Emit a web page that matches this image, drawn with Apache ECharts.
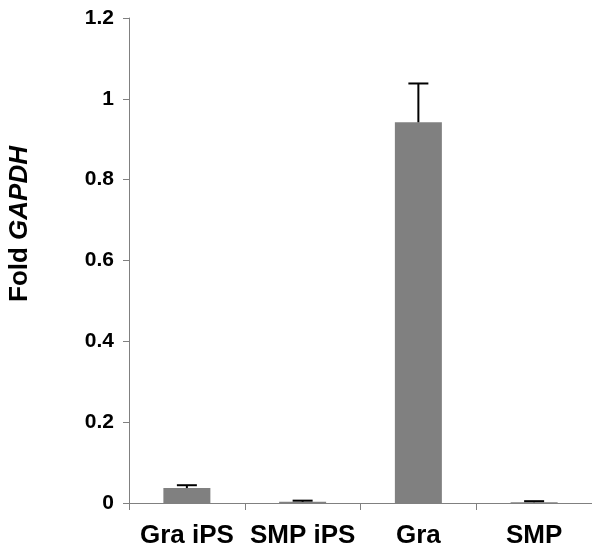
<!DOCTYPE html>
<html>
<head>
<meta charset="utf-8">
<script src="https://cdn.jsdelivr.net/npm/echarts@6/dist/echarts.min.js"></script>
<style>html,body{margin:0;padding:0;background:#fff;}#c{width:592px;height:550px;}</style>
</head>
<body>
<div id="c"></div>
<script>
const categories = ['Gra iPS', 'SMP iPS', 'Gra', 'SMP'];
const values = [0.037, 0.003, 0.942, 0.002];
const errorUpper = [0.044, 0.0058, 1.038, 0.0045];
const yTicks = [0, 0.2, 0.4, 0.6, 0.8, 1, 1.2];

const chart = echarts.init(document.getElementById('c'), null, {renderer: 'canvas'});
const font = '"Liberation Sans", Arial, sans-serif';
chart.setOption({
  animation: false,
  grid: {left: 129, top: 18, height: 485, width: 466},
  xAxis: {
    type: 'category',
    data: categories,
    axisLine: {lineStyle: {color: '#808080', width: 1}},
    axisTick: {show: true, length: 7, interval: 0, lineStyle: {color: '#808080'}},
    axisLabel: {color: '#000', fontFamily: font, fontWeight: 'bold', fontSize: 26, margin: 20, interval: 0, hideOverlap: false}
  },
  yAxis: {
    type: 'value',
    min: 0, max: 1.2, interval: 0.2,
    axisLine: {show: true, lineStyle: {color: '#808080', width: 1}},
    axisTick: {show: true, length: 6, lineStyle: {color: '#808080'}},
    splitLine: {show: false},
    axisLabel: {color: '#000', fontFamily: font, fontWeight: 'bold', fontSize: 21, margin: 15,
      formatter: function (v) { return yTicks.indexOf(Math.round(v*10)/10) >= 0 ? String(Math.round(v*10)/10) : ''; }}
  },
  graphic: [{
    type: 'text',
    x: 20, y: 224,
    rotation: Math.PI / 2,
    style: {
      text: '{a|Fold }{b|GAPDH}',
      align: 'center', verticalAlign: 'middle',
      rich: {
        a: {fontFamily: font, fontWeight: 'bold', fontSize: 26, fill: '#000'},
        b: {fontFamily: font, fontWeight: 'bold', fontStyle: 'italic', fontSize: 26, fill: '#000'}
      }
    }
  }],
  series: [{
    type: 'bar',
    data: values,
    barWidth: 47,
    itemStyle: {color: '#808080'}
  }, {
    type: 'custom',
    data: categories.map((c, i) => [i, values[i], errorUpper[i]]),
    renderItem: function (params, api) {
      const base = api.coord([api.value(0), api.value(1)]);
      const top = api.coord([api.value(0), api.value(2)]);
      const hw = 10;
      return {
        type: 'group',
        children: [
          {type: 'line', shape: {x1: base[0], y1: base[1], x2: top[0], y2: top[1]}, style: {stroke: '#000', lineWidth: 2}},
          {type: 'line', shape: {x1: top[0] - hw, y1: top[1], x2: top[0] + hw, y2: top[1]}, style: {stroke: '#000', lineWidth: 2}}
        ]
      };
    },
    z: 3
  }]
});
</script>
</body>
</html>
